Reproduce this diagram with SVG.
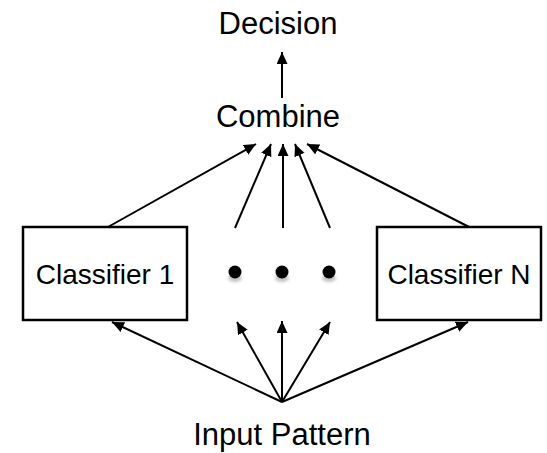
<svg xmlns="http://www.w3.org/2000/svg" width="547" height="453" viewBox="0 0 547 453">
<style>
.t{font-family:"Liberation Sans",Arial,sans-serif;fill:#000;text-anchor:middle}
.big{font-size:31px}
.cls{font-size:28px}
.box{fill:#fff;stroke:#000;stroke-width:2.5}
.ln{stroke:#000;stroke-width:2;fill:none;marker-end:url(#ah)}
</style>
<defs>
<marker id="ah" markerUnits="userSpaceOnUse" markerWidth="13" markerHeight="12" refX="12" refY="5.5" orient="auto" viewBox="0 0 13 12">
<path d="M0,0 L12,5.5 L0,11 Z" fill="#000"/>
</marker>
<filter id="blur" x="-1" y="-1" width="3" height="3"><feGaussianBlur stdDeviation="1.8"/></filter>
</defs>
<rect width="547" height="453" fill="#fff"/>
<g id="connectors">
<line class="ln" x1="282" y1="98" x2="282" y2="52"/>
<line class="ln" x1="108" y1="227" x2="256" y2="144"/>
<line class="ln" x1="235" y1="228" x2="271" y2="144"/>
<line class="ln" x1="283" y1="228" x2="283" y2="144"/>
<line class="ln" x1="330" y1="228" x2="295" y2="144"/>
<line class="ln" x1="469" y1="227" x2="307" y2="144"/>
<line class="ln" x1="282" y1="402" x2="112" y2="322"/>
<line class="ln" x1="282" y1="402" x2="237" y2="322"/>
<line class="ln" x1="282" y1="402" x2="282" y2="321"/>
<line class="ln" x1="282" y1="402" x2="330" y2="322"/>
<line class="ln" x1="282" y1="402" x2="468" y2="322"/>
</g>
<g id="decision"><text class="t big" x="278" y="34">Decision</text></g>
<g id="combine"><text class="t big" x="278" y="127">Combine</text></g>
<g id="classifier1">
<rect class="box" x="23" y="227" width="164" height="93"/>
<text class="t cls" x="105" y="284">Classifier 1</text>
</g>
<g id="dots">
<g filter="url(#blur)" fill="#888" opacity="0.5">
<ellipse cx="235" cy="278" rx="7" ry="4"/>
<ellipse cx="282" cy="278" rx="7" ry="4"/>
<ellipse cx="329" cy="278" rx="7" ry="4"/>
</g>
<circle cx="235" cy="272" r="6.5"/>
<circle cx="282" cy="272" r="6.5"/>
<circle cx="329" cy="272" r="6.5"/>
</g>
<g id="classifierN">
<rect class="box" x="377" y="227" width="164" height="93"/>
<text class="t cls" x="459" y="284">Classifier N</text>
</g>
<g id="input"><text class="t big" x="282" y="445">Input Pattern</text></g>
</svg>
